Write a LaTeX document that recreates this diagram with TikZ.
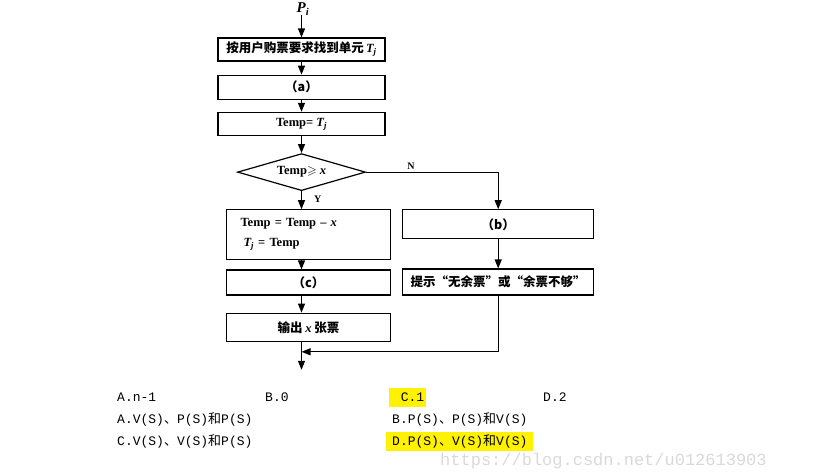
\documentclass[tikz,border=0pt]{standalone}
\usepackage{fontspec}
\setmainfont{Liberation Serif}
\newfontfamily\cjk{Noto Sans CJK SC}
\newfontfamily\mono{Liberation Mono}
\usepackage{amsmath}
\usepackage{amssymb}
\usetikzlibrary{positioning, calc, shapes.geometric, arrows.meta}
\tikzset{>={Triangle[length=9pt, width=7pt]}}
\newcommand{\hechar}{{\cjk 和}}
\newcommand{\dunchar}{{\cjk 、}}
\newcommand{\Tj}{{\rmfamily\bfseries\itshape T\textsubscript{j}}}
\newcommand{\xvar}{{\rmfamily\bfseries\itshape x}}

\begin{document}
\begin{tikzpicture}
    [x=1pt, y=1pt,
     every node/.style={inner sep=0pt},
     box/.style={draw, line width=1.2pt, minimum height=23pt, font=\fontsize{12.5}{14}\selectfont\bfseries},
     widebox/.style={box, minimum width=167pt},
     leftbox/.style={box, minimum width=164pt},
     rightbox/.style={box, minimum width=191pt},
     flow/.style={line width=1.2pt, ->},
     opt/.style={anchor=west, font=\fontsize{13}{15}\selectfont\mono},
     hilite/.style={fill=yellow, anchor=west, minimum height=19pt}]
    \useasboundingbox (0,0) rectangle (813,-472);

    \node [anchor=west, text=gray!30, font=\fontsize{17}{19}\selectfont\mono] (mark) at (440,-461) {https://blog.csdn.net/u012613903};

    \node (pi) at (303,-9) {\fontsize{15}{16}\selectfont\bfseries\itshape P\textsubscript{i}};
    \node [widebox] (find) at (301.5,-49.5) {\cjk 按用户购票要求找到单元\,\Tj};
    \node [widebox, minimum height=24pt, below=13pt of find] (a) {\cjk （a）};
    \node [widebox, below=12pt of a] (temp) {Temp= \Tj};
    \node [diamond, draw, line width=1.2pt, minimum width=128pt, minimum height=37pt, aspect=3.4,
           below=17pt of temp, font=\fontsize{12.5}{14}\selectfont\bfseries] (test) {Temp$\geqslant$ \xvar};

    \node [leftbox, minimum height=50pt, below=18pt of test, xshift=7pt,
           text width=136pt, inner xsep=14pt, align=left] (update)
          {Temp = Temp -- \xvar\\[6pt]\hspace*{3pt}\Tj{} = Temp};
    \node [rightbox, minimum height=29pt, right=11pt of update.north east, anchor=north west] (b) {\cjk （b）};
    \node [leftbox, minimum height=25pt, below=9pt of update] (c) {\cjk （c）};
    \node [rightbox, minimum height=26pt, below=29pt of b] (hint) {\cjk 提示“无余票”或“余票不够”};
    \node [leftbox, minimum height=28pt, below=17pt of c] (out) {\cjk 输出 \xvar{} 张票};

    \draw [flow] (find.north |- pi.south) -- (find);
    \draw [flow] (find) -- (a);
    \draw [flow] (a) -- (temp);
    \draw [flow] (temp) -- (test);
    \draw [flow] (test.south) -- node [right=12pt, pos=0.45, font=\bfseries] {Y} (test.south |- update.north);
    \draw [flow] (test.east) -| node [above=2pt, pos=0.17, font=\bfseries] {N} (b.north);
    \draw [flow] (test.south |- update.south) -- (test.south |- c.north);
    \draw [flow] (test.south |- c.south) -- (test.south |- out.north);
    \draw [flow] (b) -- (hint);

    \coordinate (end) at ($(test.south |- out.south)+(0,-28)$);
    \coordinate (join) at ($(end)+(0,18)$);
    \draw [flow] (test.south |- out.south) -- (end);
    \draw [flow] (hint.south) |- (join);

    % answer choices
    \node [opt] (q1a) at (117,-397) {A.n-1};
    \node [opt] (q1b) at (265,-397) {B.0};
    \node [opt, hilite, minimum width=37pt, text width=33pt, align=right] (q1c) at (389,-397) {C.1};
    \node [opt] (q1d) at (543,-397) {D.2};
    \node [opt] (q2a) at (117,-419) {A.V(S)\dunchar P(S)\hechar P(S)};
    \node [opt] (q2b) at (392,-419) {B.P(S)\dunchar P(S)\hechar V(S)};
    \node [opt] (q2c) at (117,-441) {C.V(S)\dunchar V(S)\hechar P(S)};
    \node [opt, hilite, inner xsep=6pt] (q2d) at (386,-441) {D.P(S)\dunchar V(S)\hechar V(S)};
\end{tikzpicture}
\end{document}
